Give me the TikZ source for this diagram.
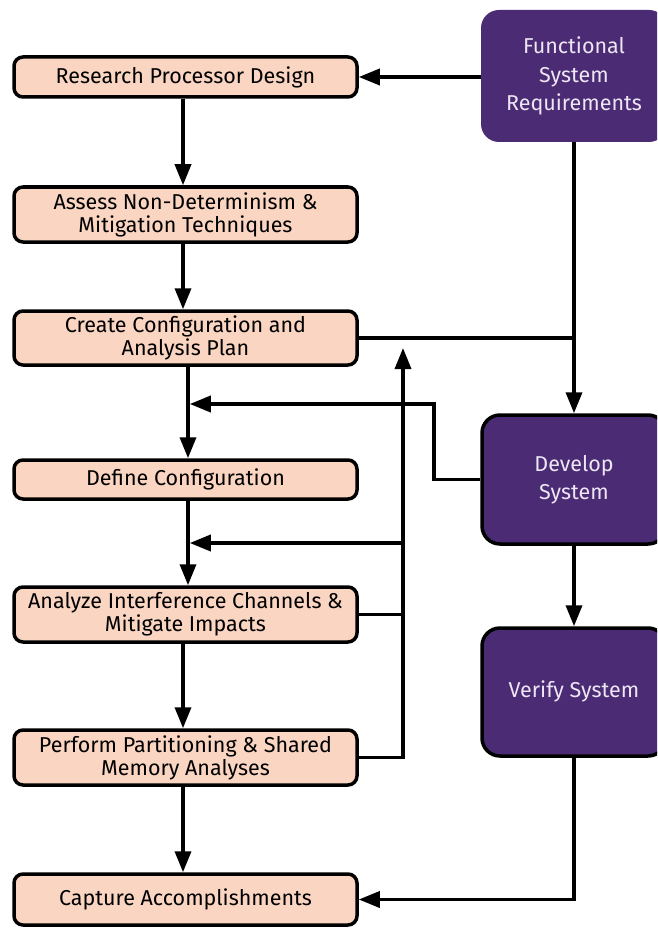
\documentclass[tikz,border=0pt]{standalone}
\usepackage{fontspec}
\setmainfont{Fira Sans}
\usetikzlibrary{arrows.meta,calc}
\definecolor{peach}{HTML}{FAD5C2}
\definecolor{purp}{HTML}{4B2B73}
\definecolor{lav}{HTML}{EDE6F5}
\begin{document}
\begin{tikzpicture}[x=1pt,y=-1pt,
 lbox/.style={draw=black, line width=3.5pt, fill=peach, rounded corners=9pt, minimum width=343pt, align=center, font=\fontsize{21.5}{23}\selectfont, inner sep=0pt},
 pbox/.style={fill=purp, rounded corners=18pt, text=lav, align=center, font=\fontsize{21.5}{28.5}\selectfont, inner sep=0pt},
 arr/.style={line width=3.5pt, -{Triangle[length=21pt,width=16pt]}},
 ln/.style={line width=3.5pt}]
\useasboundingbox (0,0) rectangle (657,928);
\clip (0,0) rectangle (657,928);
\fill[white] (0,0) rectangle (657,928);
\coordinate (c1) at (183,0);
\coordinate (c2) at (188,0);
\coordinate (vx) at (403,0);
\coordinate (j1) at (434,404);
\coordinate (vt) at (403,348);
\coordinate (h2) at (401,543);

\node[lbox, minimum height=40pt] (rpd) at (185.5,77) {Research Processor Design};
\node[lbox, minimum height=55pt] (assess) at (185.5,214.5) {Assess Non-Determinism \&\\Mitigation Techniques};
\node[lbox, minimum height=54pt] (create) at (185.5,338) {Create Configuration and\\Analysis Plan};
\node[lbox, minimum height=39pt] (define) at (185.5,479.5) {Define Configuration};
\node[lbox, minimum height=55pt] (analyze) at (185.5,614.5) {Analyze Interference Channels \&\\Mitigate Impacts};
\node[lbox, minimum height=55pt] (perform) at (185.5,757.5) {Perform Partitioning \& Shared\\Memory Analyses};
\node[lbox, minimum height=51pt] (capture) at (185.5,899.5) {Capture Accomplishments};

\node[pbox, minimum width=186pt, minimum height=132pt] (fsr) at (574,76) {Functional\\System\\Requirements};
\node[pbox, draw=black, line width=3.5pt, minimum width=184pt, minimum height=129pt] (dev) at (574,479.5) {Develop\\System};
\node[pbox, draw=black, line width=3.5pt, minimum width=184pt, minimum height=128pt] (ver) at (574,692) {\raisebox{5pt}{Verify System}};

\draw[arr] (fsr.west |- rpd.east) -- (rpd.east);
\draw[arr] (rpd.south -| c1) -- (assess.north -| c1);
\draw[arr] (assess.south -| c1) -- (create.north -| c1);
\draw[arr] (create.south -| c2) -- (define.north -| c2);
\draw[arr] (define.south -| c2) -- (analyze.north -| c2);
\draw[arr] (analyze.south -| c1) -- (perform.north -| c1);
\draw[arr] (perform.south -| c1) -- (capture.north -| c1);
\draw[arr] (fsr.south) -- (dev.north);
\draw[ln] (create.east) -- (create.east -| fsr.south);
\draw[arr, shorten >=1.75pt] (dev.west) -| (j1) -- (j1 -| c2);
\draw[arr] (perform.east) -| (vt);
\draw[ln] (analyze.east) -- (analyze.east -| vx);
\draw[arr, shorten >=1.75pt] (h2) -- (h2 -| c2);
\draw[arr] (dev.south) -- (ver.north);
\draw[arr] (ver.south) |- (capture.east);
\end{tikzpicture}
\end{document}
